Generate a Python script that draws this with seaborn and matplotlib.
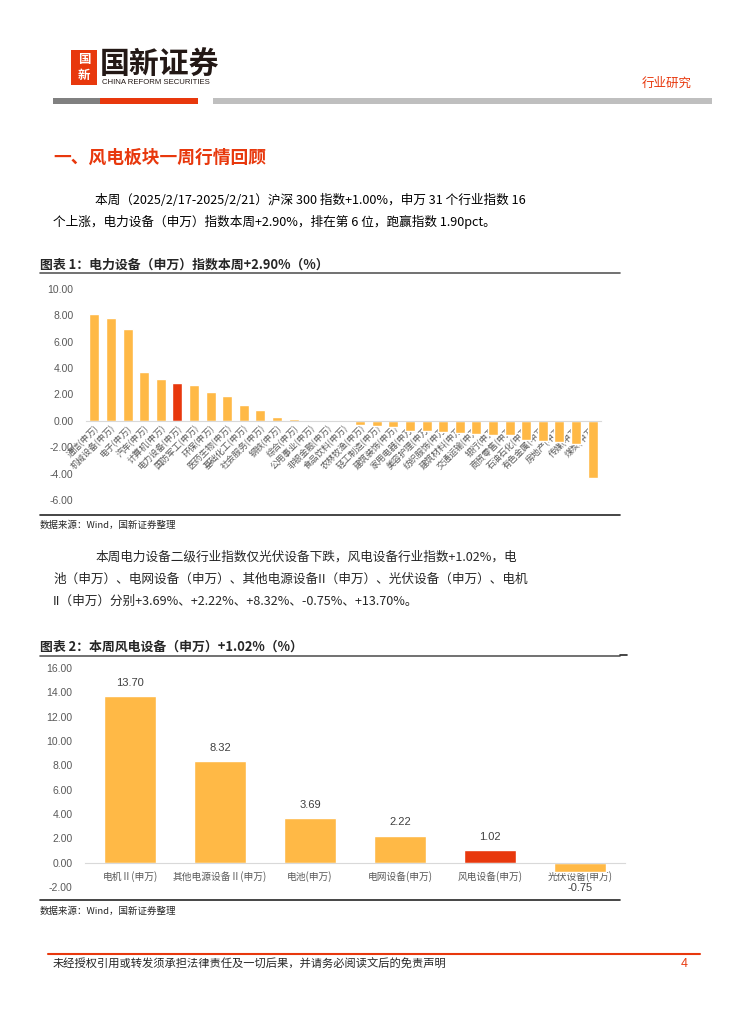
import matplotlib
matplotlib.use("Agg")
import matplotlib.pyplot as plt
from matplotlib.patches import Rectangle
from matplotlib.lines import Line2D
import seaborn as sns

# chart 1 data: 申万一级行业本周涨跌幅 (%)
ind_names = ['通信', '机械设备', '电子', '汽车', '计算机', '电力设备', '国防军工', '环保',
             '医药生物', '基础化工', '社会服务', '钢铁', '综合', '公用事业', '非银金融', '食品饮料',
             '农林牧渔', '轻工制造', '建筑装饰', '家用电器', '美容护理', '纺织服饰', '建筑材料',
             '交通运输', '银行', '商贸零售', '石油石化', '有色金属', '房地产', '传媒', '煤炭']
ind_vals = [8.13, 7.80, 6.97, 3.70, 3.17, 2.90, 2.72, 2.19, 1.86, 1.18, 0.83, 0.33, 0.18, 0.10, 0.08, 0.07,
            -0.33, -0.38, -0.45, -0.76, -0.76, -0.88, -0.95, -1.00, -1.06, -1.06, -1.43, -1.52, -1.60, -1.77, -4.36]
ind_labels = [n + '(申万)' for n in ind_names]
ind_ticks = [10, 8, 6, 4, 2, 0, -2, -4, -6]

# chart 2 data: 电力设备二级行业
sub_labels = ['电机Ⅱ(申万)', '其他电源设备Ⅱ(申万)', '电池(申万)', '电网设备(申万)', '风电设备(申万)', '光伏设备(申万)']
sub_vals = [13.70, 8.32, 3.69, 2.22, 1.02, -0.75]
sub_ticks = [16, 14, 12, 10, 8, 6, 4, 2, 0, -2]

ORANGE = '#FFB946'
RED = '#E8380D'
GRAY = '#595959'

sns.set_theme(style='white')
plt.rcParams['font.family'] = ['Noto Sans CJK SC', 'DejaVu Sans']
NUMFONT = ['Liberation Sans', 'Noto Sans CJK SC']

W, H = 742, 1024
fig = plt.figure(figsize=(W / 100, H / 100), dpi=100)
fig.patch.set_facecolor('white')


def ft(x, y, s, **kw):
    fig.text(x / W, 1 - y / H, s, **kw)


def hline(x0, x1, y, color, lw):
    fig.add_artist(Line2D([x0 / W, x1 / W], [1 - y / H, 1 - y / H], color=color, lw=lw,
                          transform=fig.transFigure))


def rect(x0, y0, x1, y1, color):
    fig.add_artist(Rectangle((x0 / W, 1 - y1 / H), (x1 - x0) / W, (y1 - y0) / H,
                             facecolor=color, edgecolor='none', transform=fig.transFigure))


# header / logo
rect(71, 50, 97, 85, RED)
ft(84, 60, '国', color='white', fontsize=9, fontweight='bold', ha='center', va='center')
ft(84, 76, '新', color='white', fontsize=9, fontweight='bold', ha='center', va='center')
ft(100, 65, '国新证券', fontsize=21.5, fontweight='bold', color='#231815', va='center')
ft(102, 83, 'CHINA REFORM SECURITIES', fontsize=5.6, color='#231815', va='center',
   family=['Liberation Sans Narrow', 'Liberation Sans'])
ft(692, 83, '行业研究', fontsize=9, color=RED, ha='right', va='center')
rect(53, 98, 100, 104, '#808080')
rect(100, 98, 198, 104, RED)
rect(213, 98, 712, 104, '#BFBFBF')

# section heading and text
ft(53, 158, '一、风电板块一周行情回顾', fontsize=12.8, fontweight='bold', color=RED, va='center')
ft(95, 200, '本周（2025/2/17-2025/2/21）沪深 300 指数+1.00%，申万 31 个行业指数 16',
   fontsize=9.1, color='black', va='center')
ft(53, 222, '个上涨，电力设备（申万）指数本周+2.90%，排在第 6 位，跑赢指数 1.90pct。',
   fontsize=9.1, color='black', va='center')

# chart 1 frame
ft(40, 265, '图表 1：电力设备（申万）指数本周+2.90%（%）', fontsize=9.3, fontweight='bold',
   style='italic', va='center')
hline(40, 620, 273, GRAY, 1.2)
hline(40, 620, 515, '#262626', 1.2)
ft(40, 525, '数据来源：Wind，国新证券整理', fontsize=6.8, va='center')

ax1 = fig.add_axes([86 / W, 1 - 500 / H, 515 / W, 211 / H])
sns.barplot(x=ind_labels, y=ind_vals, hue=ind_labels,
            palette=[RED if n == '电力设备' else ORANGE for n in ind_names],
            legend=False, width=0.6, saturation=1, ax=ax1)
ax1.set_xlim(-0.5, len(ind_vals) - 0.5)
ax1.set_ylim(-6, 10)
ax1.set_yticks(ind_ticks)
ax1.set_yticklabels(['%.2f' % t for t in ind_ticks], fontsize=7.5, color=GRAY, family=NUMFONT)
for s in ['top', 'right', 'left']:
    ax1.spines[s].set_visible(False)
ax1.spines['bottom'].set_position(('data', 0))
ax1.spines['bottom'].set_color('#D9D9D9')
ax1.spines['bottom'].set_linewidth(0.8)
ax1.tick_params(axis='both', length=0)
ax1.tick_params(axis='y', pad=9)
ax1.tick_params(axis='x', pad=2)
for lab in ax1.get_xticklabels():
    lab.set_rotation(45)
    lab.set_ha('right')
    lab.set_va('top')
    lab.set_rotation_mode('anchor')
    lab.set_fontsize(6.3)
    lab.set_color(GRAY)
ax1.set_xlabel('')
ax1.set_ylabel('')
ax1.patch.set_alpha(0)

# text between charts
ft(95, 557, '本周电力设备二级行业指数仅光伏设备下跌，风电设备行业指数+1.02%，电',
   fontsize=9.1, va='center')
ft(53, 579, '池（申万）、电网设备（申万）、其他电源设备II（申万）、光伏设备（申万）、电机',
   fontsize=9.1, va='center')
ft(53, 601, 'II（申万）分别+3.69%、+2.22%、+8.32%、-0.75%、+13.70%。',
   fontsize=9.1, va='center')

# chart 2 frame
ft(40, 647, '图表 2：本周风电设备（申万）+1.02%（%）', fontsize=9.3, fontweight='bold',
   style='italic', va='center')
hline(40, 620, 656, GRAY, 1.2)
hline(620, 627, 655, '#262626', 1.2)
hline(40, 620, 900, '#262626', 1.2)
ft(40, 911, '数据来源：Wind，国新证券整理', fontsize=6.8, va='center')

ax2 = fig.add_axes([85 / W, 1 - 887 / H, 540 / W, 219 / H])
sns.barplot(x=sub_labels, y=sub_vals, hue=sub_labels,
            palette=[RED if n.startswith('风电') else ORANGE for n in sub_labels],
            legend=False, width=0.57, saturation=1, ax=ax2)
ax2.set_xlim(-0.5, len(sub_vals) - 0.5)
ax2.set_ylim(-2, 16)
ax2.set_yticks(sub_ticks)
ax2.set_yticklabels(['%.2f' % t for t in sub_ticks], fontsize=7.5, color=GRAY, family=NUMFONT)
for s in ['top', 'right', 'left']:
    ax2.spines[s].set_visible(False)
ax2.spines['bottom'].set_position(('data', 0))
ax2.spines['bottom'].set_color('#D9D9D9')
ax2.spines['bottom'].set_linewidth(0.8)
ax2.tick_params(axis='both', length=0)
ax2.tick_params(axis='y', pad=9)
ax2.tick_params(axis='x', pad=6)
for lab in ax2.get_xticklabels():
    lab.set_fontsize(7)
    lab.set_color(GRAY)
for i, v in enumerate(sub_vals):
    off = 9.5 if v >= 0 else -12
    ax2.annotate('%.2f' % v, (i, v), xytext=(0, off), textcoords='offset points',
                 ha='center', va='center', fontsize=8, color='#404040', family=NUMFONT)
ax2.set_xlabel('')
ax2.set_ylabel('')
ax2.patch.set_alpha(0)

# footer
hline(48, 700, 954, RED, 1.5)
ft(53, 964, '未经授权引用或转发须承担法律责任及一切后果，并请务必阅读文后的免责声明',
   fontsize=8.1, va='center')
ft(688, 964, '4', fontsize=9, color=RED, ha='right', va='center', family=NUMFONT)

fig.savefig('out.png', dpi=100, facecolor='white')
